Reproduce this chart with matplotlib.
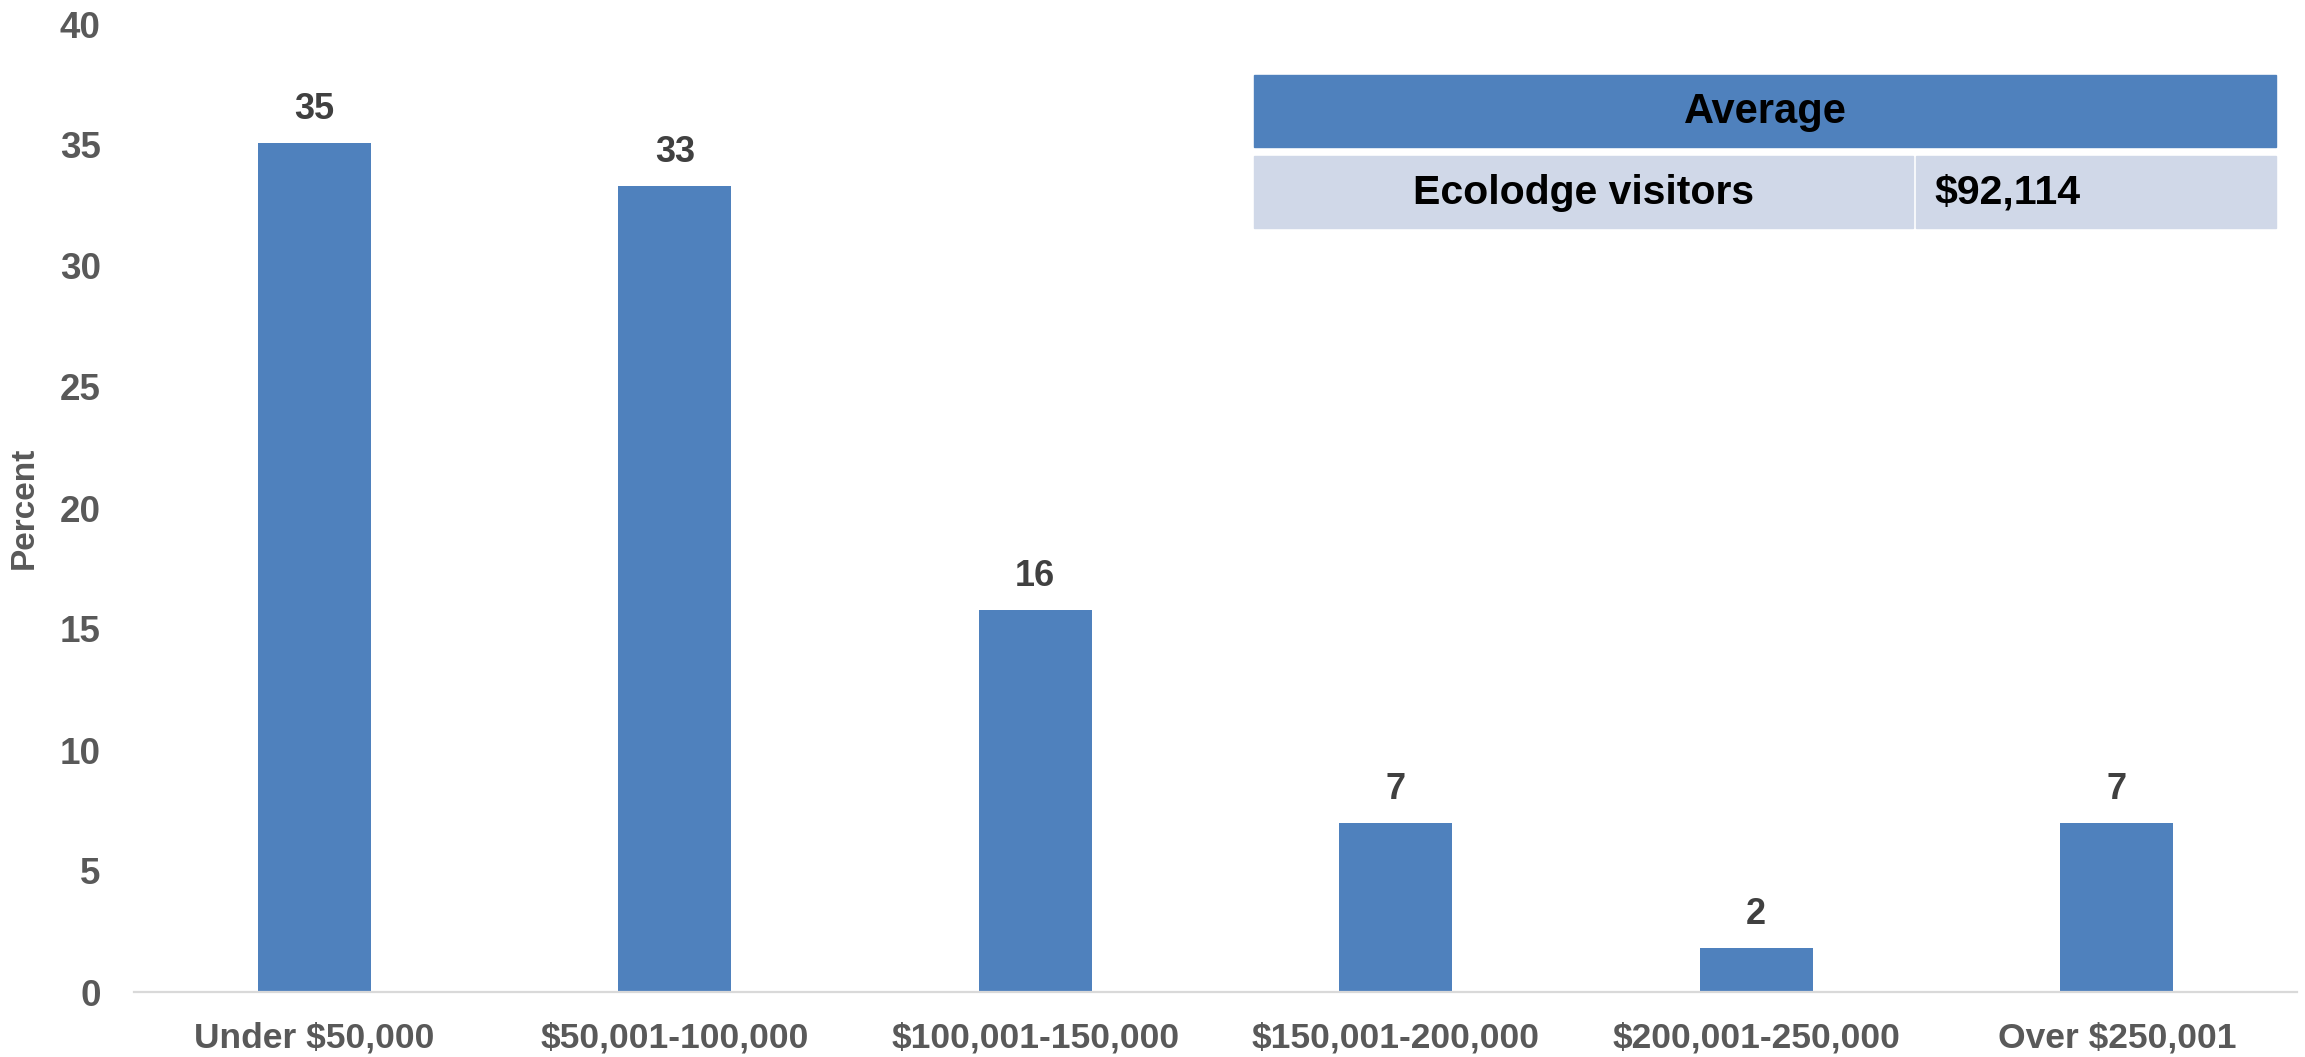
import matplotlib
matplotlib.use('Agg')
import matplotlib.pyplot as plt
from matplotlib.patches import Rectangle

# Данные
categories = ['Under $50,000', '$50,001-100,000', '$100,001-150,000',
              '$150,001-200,000', '$200,001-250,000', 'Over $250,001']
percent = [35.1, 33.3, 15.8, 7.0, 1.8, 7.0]
bar_labels = ['35', '33', '16', '7', '2', '7']
yticks = [0, 5, 10, 15, 20, 25, 30, 35, 40]
table_header = 'Average'
table_row = ['Ecolodge visitors', '$92,114']

W, H = 2305, 1057
blue = '#4f81bd'
light = '#d0d8e8'

plt.rcParams['font.family'] = ['Liberation Sans', 'DejaVu Sans']

fig = plt.figure(figsize=(W / 100, H / 100), dpi=100)
ax = fig.add_axes([134 / W, (H - 992) / H, 2163 / W, 968 / H])

x = list(range(len(categories)))
bars = ax.bar(x, percent, width=0.314, color=blue, zorder=2)

# Подписи над столбцами
for b, lab in zip(bars, bar_labels):
    ax.annotate(lab, (b.get_x() + b.get_width() / 2, b.get_height()),
                xytext=(0, 11.5), textcoords='offset points',
                ha='center', va='bottom', fontsize=26, fontweight='bold',
                color='#404040')

ax.set_xlim(-0.5, len(categories) - 0.5)
ax.set_ylim(0, 40)
ax.set_yticks(yticks)
ax.set_xticks(x)
ax.set_xticklabels(categories)
ax.tick_params(axis='x', length=0, labelsize=25.5, labelcolor='#595959', pad=21)
ax.tick_params(axis='y', length=0, labelsize=26.5, labelcolor='#595959', pad=24)
for lab in ax.get_xticklabels() + ax.get_yticklabels():
    lab.set_fontweight('bold')

ax.set_ylabel('Percent', fontsize=24, color='#595959', fontweight='bold', labelpad=14)

for s in ['top', 'right', 'left']:
    ax.spines[s].set_visible(False)
ax.spines['bottom'].set_color('#d9d9d9')
ax.spines['bottom'].set_linewidth(1.6)


# Таблица со средним значением (в пикселях фигуры)
def box(x0, y0, x1, y1, color):
    fig.patches.append(Rectangle((x0 / W, 1 - y1 / H), (x1 - x0) / W, (y1 - y0) / H,
                                 transform=fig.transFigure, color=color, zorder=5))


box(1254, 75, 2276, 147, blue)
box(1254, 156, 1913, 228, light)
box(1916, 156, 2276, 228, light)
fig.text((1254 + 2276) / 2 / W, 1 - 112 / H, table_header, ha='center', va='center',
         fontsize=30, fontweight='bold', color='black', zorder=6)
fig.text((1254 + 1913) / 2 / W, 1 - 193 / H, table_row[0], ha='center', va='center',
         fontsize=29.5, fontweight='bold', color='black', zorder=6)
fig.text(1934 / W, 1 - 193 / H, table_row[1], ha='left', va='center',
         fontsize=29.5, fontweight='bold', color='black', zorder=6)

fig.savefig('out.png', dpi=100)
